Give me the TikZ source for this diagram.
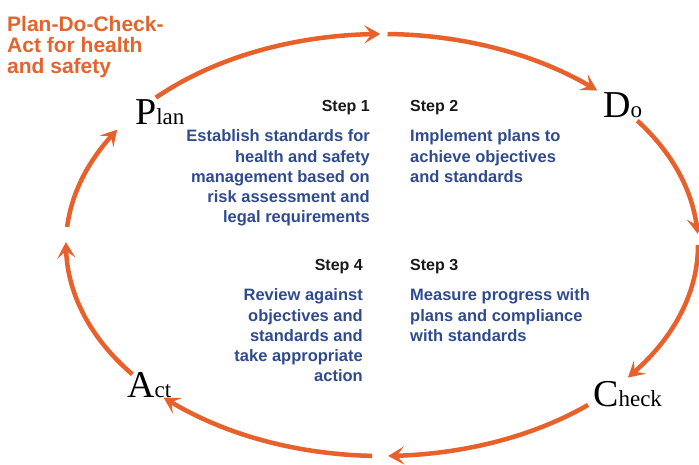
\documentclass[tikz,border=0pt]{standalone}
\usepackage{fontspec}
\setmainfont{Liberation Serif}
\newfontfamily\labelsans{Liberation Sans}
\usetikzlibrary{arrows.meta,bending,calc}
\definecolor{cycleorange}{HTML}{E8602A}
\definecolor{titleorange}{HTML}{E2642F}
\definecolor{stepblue}{HTML}{2F4B8E}
\definecolor{stepblack}{HTML}{1A1A1A}
% large initial capital followed by smaller lowercase letters
\newcommand\phaseword[2]{{\fontsize{38}{38}\selectfont #1}{\fontsize{23}{23}\selectfont #2}}
\begin{document}
\begin{tikzpicture}[x=1pt,y=1pt,
  cyclearc/.style={draw=cycleorange, line width=4.5pt,
    -{Stealth[length=16pt,width=18pt,inset=7pt,bend]}},
  phase/.style={inner sep=0pt, anchor=base west, text=black},
  steplabel/.style={inner sep=0pt, font=\labelsans\bfseries\fontsize{16}{20}\selectfont, text=stepblack},
  steptext/.style={inner sep=0pt, font=\labelsans\bfseries\fontsize{16.5}{20.2}\selectfont, text=stepblue},
]
\useasboundingbox[fill=white] (0,0) rectangle (699,465);

% title (multi-line nodes are placed by the baseline of their last line)
\node[inner sep=0pt, anchor=base west, align=left, text=titleorange,
      font=\labelsans\bfseries\fontsize{21}{21}\selectfont] (title) at (7,391)
  {Plan-Do-Check-\\Act for health\\and safety};

% the four phases
\node[phase] (plan)  at (135,340) {\phaseword{P}{lan}};
\node[phase] (do)    at (603,347) {\phaseword{D}{o}};
\node[phase] (check) at (593,58)  {\phaseword{C}{heck}};
\node[phase] (act)   at (127,67)  {\phaseword{A}{ct}};

% step headings and descriptions
\node[steplabel, anchor=base east] (step1) at (370,353) {Step 1};
\node[steptext, anchor=base east, align=right] (desc1) at (370,242.2)
  {Establish standards for\\health and safety\\management based on\\risk assessment and\\legal requirements};
\node[steplabel, anchor=base west] (step2) at (410,353) {Step 2};
\node[steptext, anchor=base west, align=left] (desc2) at (410,282.6)
  {Implement plans to\\achieve objectives\\and standards};
\node[steplabel, anchor=base east] (step4) at (363,194) {Step 4};
\node[steptext, anchor=base east, align=right] (desc4) at (363,83.2)
  {Review against\\objectives and\\standards and\\take appropriate\\action};
\node[steplabel, anchor=base west] (step3) at (410,194) {Step 3};
\node[steptext, anchor=base west, align=left] (desc3) at (410,123.6)
  {Measure progress with\\plans and compliance\\with standards};

% the cycle: eight arcs of one ellipse
\coordinate (c) at (382,220);
\coordinate (a1) at ($(c)+(135.7:316 and 211)$);
\coordinate (a2) at ($(c)+(89:316 and 211)$);
\coordinate (a3) at ($(c)+(36.1:316 and 211)$);
\coordinate (a4) at ($(c)+(0:316 and 211)$);
\coordinate (a5) at ($(c)+(-49.3:316 and 211)$);
\coordinate (a6) at ($(c)+(-91.8:316 and 211)$);
\coordinate (a7) at ($(c)+(-142.2:316 and 211)$);
\coordinate (a8) at ($(c)+(-184.9:316 and 211)$);

\draw[cyclearc] (a1) arc[start angle=135.7, end angle=90.3, x radius=316, y radius=211];
\draw[cyclearc] (a2) arc[start angle=89, end angle=47.1, x radius=316, y radius=211];
\draw[cyclearc] (a3) arc[start angle=36.1, end angle=3, x radius=316, y radius=211];
\draw[cyclearc] (a4) arc[start angle=0, end angle=-38.9, x radius=316, y radius=211];
\draw[cyclearc] (a5) arc[start angle=-49.3, end angle=-88.9, x radius=316, y radius=211];
\draw[cyclearc] (a6) arc[start angle=-91.8, end angle=-133.7, x radius=316, y radius=211];
\draw[cyclearc] (a7) arc[start angle=-142.2, end angle=-180.8, x radius=316, y radius=211];
\draw[cyclearc] (a8) arc[start angle=-184.9, end angle=-213.1, x radius=316, y radius=211];
\end{tikzpicture}
\end{document}
